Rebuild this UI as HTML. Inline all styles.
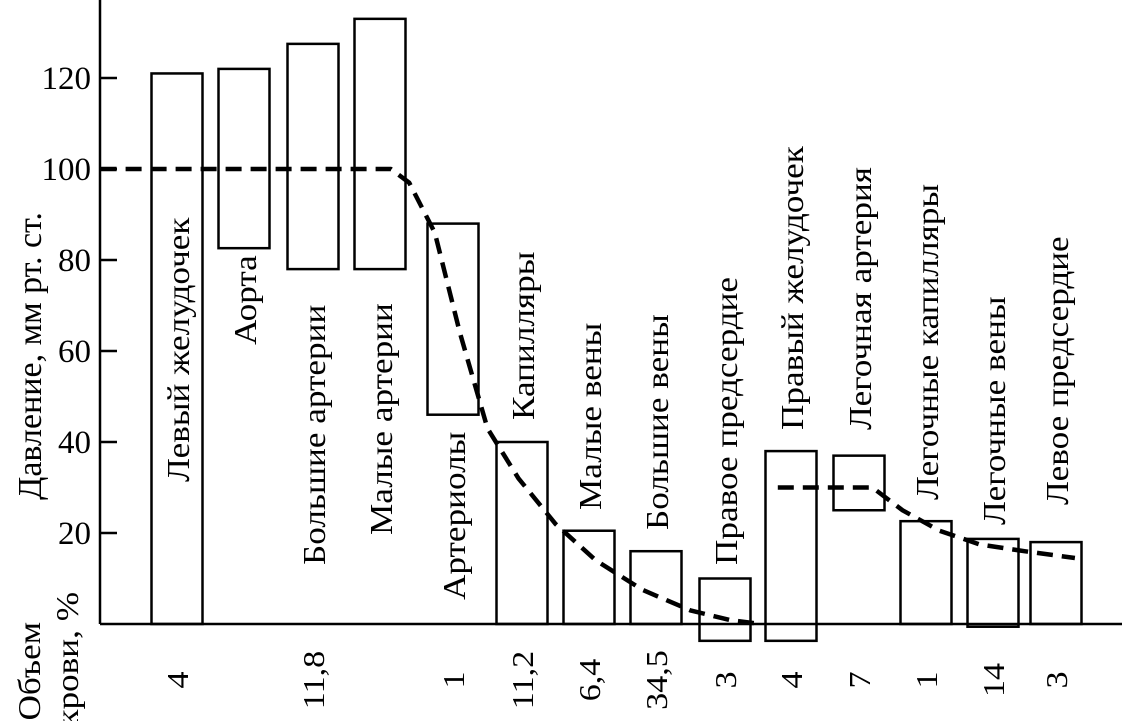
<!DOCTYPE html>
<html><head><meta charset="utf-8"><style>
html,body{margin:0;padding:0;background:#fff}
svg text{font-family:"Liberation Serif",serif;fill:#000}
</style></head><body>
<svg width="1122" height="721" viewBox="0 0 1122 721" id="chart">
<line x1="100" y1="0" x2="100" y2="624" stroke="#000" stroke-width="2.5"/>
<line x1="100" y1="624" x2="1122" y2="624" stroke="#000" stroke-width="2.5"/>
<text transform="translate(41,356) rotate(-90)" text-anchor="middle" font-size="34">Давление, мм рт. ст.</text>
<text transform="translate(40,622) rotate(-90) scale(1.1,1)" text-anchor="end" font-size="32">Объем</text>
<text transform="translate(78,592) rotate(-90) scale(1.1,1)" text-anchor="end" font-size="32">крови, %</text>
<g id="ticks"></g><g id="bars"></g><g id="lines"></g><g id="labels"></g><g id="vols"></g>
</svg>
<script>
const categories=["Левый желудочек","Аорта","Большие артерии","Малые артерии","Артериолы","Капилляры","Малые вены","Большие вены","Правое предсердие","Правый желудочек","Легочная артерия","Легочные капилляры","Легочные вены","Левое предсердие"];
const barTop=[121,122,127.5,133,88,40,20.5,16,10,38,37,22.6,18.7,18];
const barBottom=[0,82.6,78,78,46,0,0,0,-3.7,-3.7,25,0,-0.6,0];
const volumes=["4","","11,8","","1","11,2","6,4","34,5","3","4","7","1","14","3"];
const yTicks=[20,40,60,80,100,120];
const curve1X=[-1.14,3.15,3.4,3.75,4.1,4.5,4.95,5.5,6.1,6.8,7.5,8.1,8.55];
const curve1Y=[100,100,97,86,64,43,32,22,14,7.5,3,0.8,0];
const curve2X=[8.8,10.2,10.65,11.2,11.8,12.5,13.3];
const curve2Y=[30,30,25,20.5,17.5,16,14.5];
// layout: category band centers (px) and label baseline ends
const bandCenter=[177,244,313,380,453,522,589,656,725,791,859,926,993,1056];
const labelBase=[482,345,565,535,600,420,510,530,565,430,430,500,525,505];
const NS="http://www.w3.org/2000/svg";
const y=v=>624-v*4.55;
function x(p){const i=Math.max(0,Math.min(bandCenter.length-2,Math.floor(p)));return bandCenter[i]+(p-i)*(bandCenter[i+1]-bandCenter[i]);}
function mk(t,a,p){const e=document.createElementNS(NS,t);for(const k in a)e.setAttribute(k,a[k]);document.getElementById(p).appendChild(e);return e;}
yTicks.forEach(v=>{
 const t=mk("text",{x:91,y:y(v)+11,"text-anchor":"end","font-size":"33"},"ticks");t.textContent=v;
 
 
 const l=mk("line",{x1:100,x2:117,y1:y(v),y2:y(v),stroke:"#000","stroke-width":2.5},"ticks");
 
 
});
categories.forEach((c,i)=>{
 const r=mk("rect",{x:x(i)-25.5,y:y(barTop[i]),width:51,height:y(barBottom[i])-y(barTop[i]),fill:"none",stroke:"#000","stroke-width":2.5},"bars");
 
 
 const t=mk("text",{transform:`translate(${x(i)+12},${labelBase[i]}) rotate(-90) scale(1.1,1)`,"font-size":"32"},"labels");t.textContent=c;
 
 
 if(volumes[i]){const v=mk("text",{transform:`translate(${x(i)+11},${680}) rotate(-90) scale(1.1,1)`,"text-anchor":"middle","font-size":"31"},"vols");v.textContent=volumes[i];
 
 }
});
function path(xs,ys){let d="";xs.forEach((v,i)=>{d+=(i?"L":"M")+x(v).toFixed(1)+","+y(ys[i]).toFixed(1)});return d;}
[[curve1X,curve1Y],[curve2X,curve2Y]].forEach((c,k)=>{
 const p=mk("path",{d:path(c[0],c[1]),fill:"none",stroke:"#000","stroke-width":4.5,"stroke-dasharray":"16 9","stroke-linejoin":"round"},"lines");
 
 
});
</script>
</body></html>
